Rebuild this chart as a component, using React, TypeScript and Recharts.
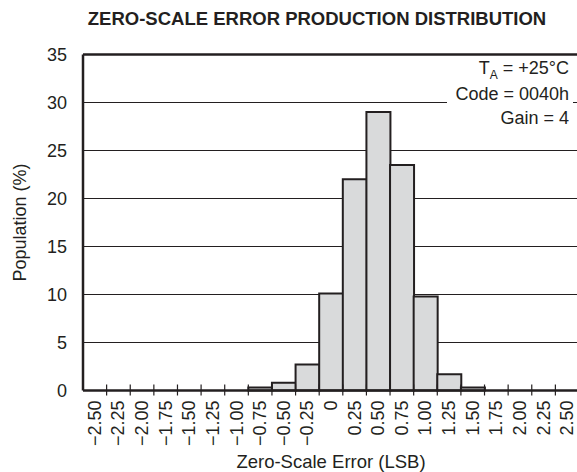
import { Bar, BarChart, CartesianGrid, ReferenceLine, XAxis, YAxis } from "recharts";

const errorBins = [
  "−2.50", "−2.25", "−2.00", "−1.75", "−1.50", "−1.25", "−1.00",
  "−0.75", "−0.50", "−0.25", "0", "0.25", "0.50", "0.75",
  "1.00", "1.25", "1.50", "1.75", "2.00", "2.25", "2.50",
];

const population = [
  0, 0, 0, 0, 0, 0, 0,
  0.3, 0.8, 2.7, 10.1, 22.0, 29.0, 23.5,
  9.8, 1.7, 0.3, 0, 0, 0, 0,
];

const populationTicks = [0, 5, 10, 15, 20, 25, 30, 35];

const data = errorBins.map((bin, i) => ({ bin, population: population[i] }));

const INK = "#231f20";
const FONT = '"Liberation Sans", Arial, Helvetica, sans-serif';
const TICK_GAP = 10;

// label at the bin centre, small mark at the bin's left edge
function BinTick(props: any) {
  const { x, y, payload, index } = props;
  const axisY = y - TICK_GAP;
  const edgeX = x - (payload.offset ?? 0);
  return (
    <g>
      {index > 0 && (
        <line x1={edgeX} x2={edgeX} y1={axisY - 6} y2={axisY + 5} stroke={INK} strokeWidth={1.2} />
      )}
      <text
        x={x}
        y={y}
        transform={`rotate(-90 ${x} ${y})`}
        textAnchor="end"
        dominantBaseline="central"
        fontSize={18}
        fill={INK}
      >
        {payload.value}
      </text>
    </g>
  );
}

export default function App() {
  return (
    <div
      style={{
        position: "fixed",
        left: 0,
        top: 0,
        width: 577,
        height: 472,
        overflow: "hidden",
        background: "#fff",
        fontFamily: FONT,
        color: INK,
      }}
    >
      <div
        style={{
          position: "absolute",
          left: 17,
          top: 9,
          width: 600,
          textAlign: "center",
          fontWeight: "bold",
          fontSize: 18.5,
          lineHeight: "20px",
          whiteSpace: "nowrap",
        }}
      >
        ZERO-SCALE ERROR PRODUCTION DISTRIBUTION
      </div>

      <BarChart
        width={579}
        height={472}
        data={data}
        margin={{ top: 54.5, right: 0, bottom: 0, left: 0 }}
        barCategoryGap={0}
        barGap={0}
      >
        <CartesianGrid vertical={false} stroke={INK} strokeWidth={1} />
        <XAxis
          dataKey="bin"
          type="category"
          height={81.5}
          interval={0}
          tickLine={false}
          tickSize={0}
          tickMargin={TICK_GAP}
          axisLine={{ stroke: INK, strokeWidth: 2.5 }}
          tick={<BinTick />}
          label={{
            value: "Zero-Scale Error (LSB)",
            position: "insideBottom",
            offset: 4,
            style: { fill: INK, fontSize: 18.5 },
          }}
        />
        <YAxis
          domain={[0, 35]}
          ticks={populationTicks}
          width={83}
          tickLine={false}
          tickSize={0}
          tickMargin={16}
          axisLine={{ stroke: INK, strokeWidth: 2.5 }}
          tick={{ fill: INK, fontSize: 18 }}
          label={{
            value: "Population (%)",
            angle: -90,
            position: "insideLeft",
            offset: 20,
            style: { fill: INK, fontSize: 18, textAnchor: "middle" },
          }}
        />
        <ReferenceLine y={35} stroke={INK} strokeWidth={2.5} />
        <Bar
          dataKey="population"
          fill="#d9dadb"
          stroke={INK}
          strokeWidth={2}
          isAnimationActive={false}
        />
      </BarChart>

      <div
        style={{
          position: "absolute",
          right: 4,
          top: 56,
          paddingLeft: 8,
          paddingRight: 4,
          background: "#fff",
          textAlign: "right",
          fontSize: 18,
          lineHeight: "24px",
          whiteSpace: "nowrap",
        }}
      >
        <div>
          T<span style={{ fontSize: 12, position: "relative", top: 5 }}>A</span> = +25°C
        </div>
        <div>Code = 0040h</div>
        <div>Gain = 4</div>
      </div>
    </div>
  );
}
